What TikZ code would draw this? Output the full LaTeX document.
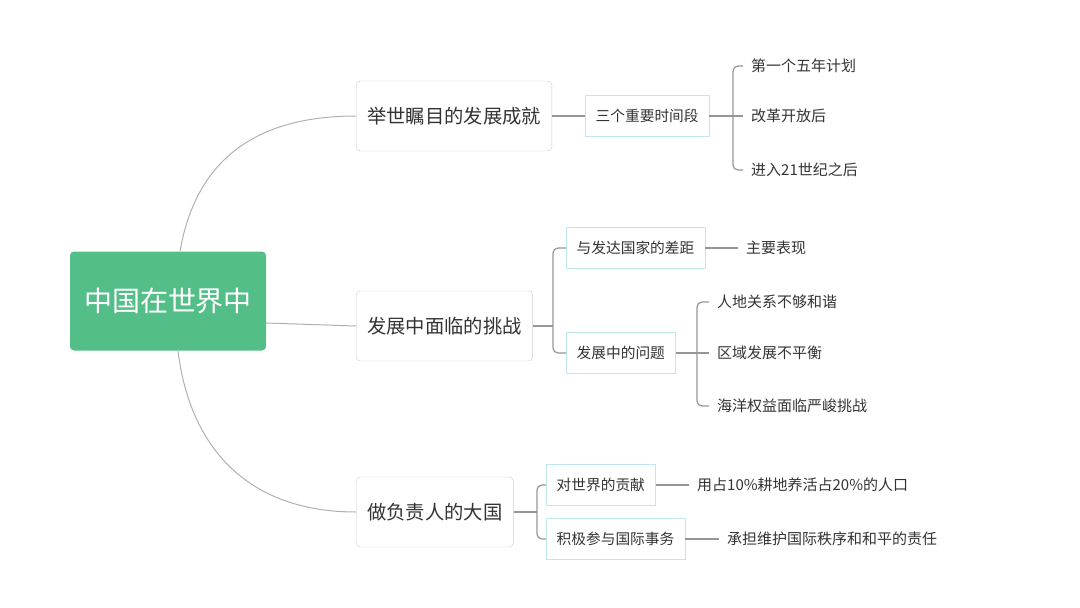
\documentclass[tikz,border=0pt]{standalone}
\usepackage{fontspec}
\setmainfont{Noto Sans CJK SC}
\usetikzlibrary{positioning}
\definecolor{rootgreen}{RGB}{84,190,137}
\definecolor{ink}{RGB}{51,51,51}
\definecolor{frame}{RGB}{205,205,205}
\definecolor{cyanframe}{RGB}{190,232,238}
\definecolor{linegray}{RGB}{150,150,150}

\begin{document}
\begin{tikzpicture}[x=1pt,y=-1pt,
root/.style={fill=rootgreen,rounded corners=4pt,text=white,font=\fontsize{28}{32}\selectfont,inner xsep=14pt,minimum height=99pt},
topic/.style={draw=frame,fill=white,rounded corners=4pt,text=ink,font=\fontsize{19.3}{23}\selectfont,inner xsep=11pt,minimum height=70pt,anchor=west},
sub/.style={draw=cyanframe,fill=white,text=ink,font=\fontsize{14.7}{17}\selectfont,inner xsep=10.5pt,minimum height=41pt,anchor=west},
leaf/.style={text=ink,font=\fontsize{15}{18}\selectfont,inner xsep=8pt,inner ysep=2pt,anchor=west},
ln/.style={draw=linegray,line width=1.2pt},
cv/.style={draw=linegray!75,line width=1pt}]
\useasboundingbox (0,0) rectangle (1080,608);
% centre
\node[root] (r) at (168,301) {中国在世界中};
% main topics
\node[topic] (b1) at (356,116) {举世瞩目的发展成就};
\node[topic] (b2) at (356,326) {发展中面临的挑战};
\node[topic] (b3) at (356,512) {做负责人的大国};
\draw[cv] ([xshift=12pt]r.north) .. controls (195,165) and (250,116) .. (b1.west);
\draw[cv] ([yshift=-22pt]r.east) -- (b2.west);
\draw[cv] ([xshift=10pt]r.south) .. controls (190,450) and (250,512) .. (b3.west);
% first topic
\node[sub] (s1) at (585,116) {三个重要时间段};
\node[leaf] (l11) at (743,66) {第一个五年计划};
\node[leaf] (l12) at (743,116) {改革开放后};
\node[leaf] (l13) at (743,170) {进入21世纪之后};
\coordinate (k1) at (733,0);
\draw[ln] (b1.east) -- (s1.west);
\draw[ln] (s1.east) -- (l12.west);
\draw[ln,rounded corners=5pt] (l11.west) -| (k1 |- l12.west) |- (l13.west);
% second topic
\node[sub] (s2a) at (566,248) {与发达国家的差距};
\node[sub] (s2b) at (566,353) {发展中的问题};
\node[leaf] (l2a) at (738,248) {主要表现};
\node[leaf] (l2b1) at (709,302) {人地关系不够和谐};
\node[leaf] (l2b2) at (709,353) {区域发展不平衡};
\node[leaf] (l2b3) at (709,406) {海洋权益面临严峻挑战};
\coordinate (k2) at (553,0);
\coordinate (k2b) at (697,0);
\draw[ln] (b2.east) -- (k2 |- b2.east);
\draw[ln,rounded corners=5pt] (s2a.west) -| (k2 |- b2.east) |- (s2b.west);
\draw[ln] (s2a.east) -- (l2a.west);
\draw[ln] (s2b.east) -- (l2b2.west);
\draw[ln,rounded corners=5pt] (l2b1.west) -| (k2b |- l2b2.west) |- (l2b3.west);
% third topic
\node[sub] (s3a) at (546,485) {对世界的贡献};
\node[sub] (s3b) at (546,539) {积极参与国际事务};
\node[leaf] (l3a) at (689,485) {用占10\%耕地养活占20\%的人口};
\node[leaf] (l3b) at (719,539) {承担维护国际秩序和和平的责任};
\coordinate (k3) at (537,0);
\draw[ln] (b3.east) -- (k3 |- b3.east);
\draw[ln,rounded corners=5pt] (s3a.west) -| (k3 |- b3.east) |- (s3b.west);
\draw[ln] (s3a.east) -- (l3a.west);
\draw[ln] (s3b.east) -- (l3b.west);
\end{tikzpicture}
\end{document}
